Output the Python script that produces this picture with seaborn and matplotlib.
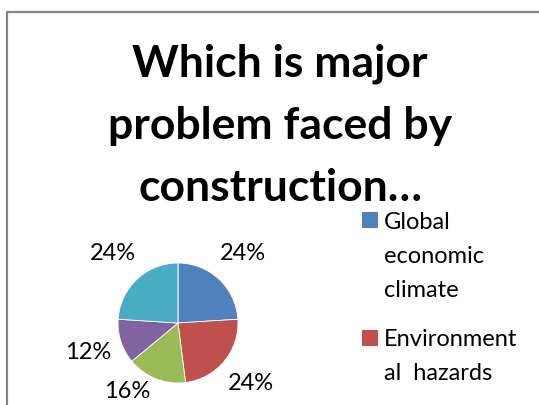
import numpy as np
import matplotlib
matplotlib.use("Agg")
import matplotlib.pyplot as plt
import matplotlib.patches as mpatches
from matplotlib.legend_handler import HandlerPatch
import seaborn as sns

# ---------- DATA ----------
categories = ["Global\neconomic\nclimate", "Environment\nal  hazards",
              "Category 3", "Category 4", "Category 5"]
shares = [24, 24, 16, 12, 24]
colors = ["#4F81BD", "#C0504D", "#9BBB59", "#8064A2", "#4BACC6"]
title = "Which is major\nproblem faced by\nconstruction\u2026"
# --------------------------

sns.set_theme(style="white")
plt.rcParams["font.family"] = ["Lato", "DejaVu Sans"]
plt.rcParams["text.color"] = "black"

W, H = 539, 405
LEG_FS = 17
LEG_LINE = 1.76  # legend text line spacing


class TopSquare(HandlerPatch):
    """Legend square aligned with the first line of a wrapped label."""

    def __init__(self, nlines, **kw):
        super().__init__(**kw)
        self.nlines = nlines

    def create_artists(self, legend, orig_handle, xdescent, ydescent,
                       width, height, fontsize, trans):
        shift = (self.nlines - 1) / 2 * LEG_LINE * fontsize * 0.88
        p = mpatches.Rectangle((-xdescent, -ydescent + shift), width, height,
                               facecolor=orig_handle.get_facecolor(),
                               edgecolor="none", transform=trans)
        return [p]


fig = plt.figure(figsize=(W / 100, H / 100), dpi=100)

# chart-area border (runs off right/bottom edges)
fig.patches.append(mpatches.Rectangle((7 / W, -0.1), 1.2, 1 - 12 / H + 0.1,
                                      transform=fig.transFigure, fill=False,
                                      edgecolor="#868686", linewidth=1.6))

# pie axes: center (178, 323) px, radius 60 px
cx, cy, r = 178, 323, 60
ax = fig.add_axes([(cx - r) / W, (H - cy - r) / H, 2 * r / W, 2 * r / H])
wedges, texts, autotexts = ax.pie(
    shares, colors=colors, startangle=90, counterclock=False,
    autopct="%1.0f%%", pctdistance=1.58, radius=1,
    wedgeprops=dict(edgecolor="white", linewidth=0.6),
    textprops=dict(fontsize=17, color="black"))
for t in autotexts:
    t.set_clip_on(False)
# green label sits a little further round and closer in (as Excel places it)
x, y = autotexts[2].get_position()
a = np.deg2rad(-15)
k = 1.42 / 1.58
autotexts[2].set_position((k * (x * np.cos(a) - y * np.sin(a)),
                           k * (x * np.sin(a) + y * np.cos(a))))
ax.set_xlim(-1, 1)
ax.set_ylim(-1, 1)
ax.set_aspect("equal")
ax.axis("off")

fig.text(280 / W, 1 - 44 / H, title, ha="center", va="top", color="black",
         fontsize=32, fontweight="bold", linespacing=1.66)

shown = wedges[:2]
hmap = {w: TopSquare(lab.count("\n") + 1) for w, lab in zip(shown, categories)}
leg = fig.legend(shown, categories[:2], loc="upper left",
                 bbox_to_anchor=(362 / W, 1 - 212 / H), frameon=False,
                 fontsize=LEG_FS, handlelength=0.68, handleheight=0.68,
                 handletextpad=0.25, labelspacing=1.18, borderpad=0,
                 borderaxespad=0, handler_map=hmap)
for t in leg.get_texts():
    t.set_linespacing(LEG_LINE)
    t.set_color("black")

plt.savefig("out.png", dpi=100)
